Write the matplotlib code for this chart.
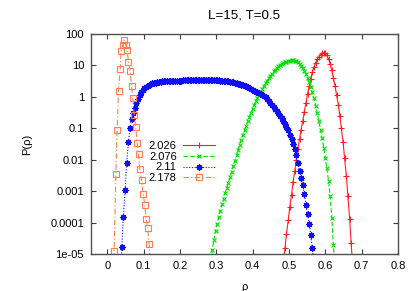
import matplotlib
matplotlib.use('Agg')
import numpy as np
import matplotlib.pyplot as plt
from matplotlib.ticker import FixedLocator, NullLocator

plt.rcParams['font.family'] = ['Liberation Sans', 'DejaVu Sans']
plt.rcParams['font.size'] = 8

# rho values and log10 P(rho)
rho_2026 = [0.484, 0.489, 0.493, 0.498, 0.502, 0.507, 0.511, 0.516, 0.520, 0.524,
            0.529, 0.533, 0.538, 0.542, 0.547, 0.551, 0.556, 0.560, 0.564, 0.569,
            0.573, 0.578, 0.582, 0.587, 0.591, 0.596, 0.600, 0.604, 0.609, 0.613,
            0.618, 0.622, 0.627, 0.631, 0.636, 0.640, 0.644, 0.649, 0.653, 0.658,
            0.662, 0.667, 0.671, 0.676]
logp_2026 = [-5.30, -4.80, -4.35, -3.92, -3.50, -3.12, -2.72, -2.35, -2.00, -1.67,
             -1.35, -1.05, -0.76, -0.47, -0.18, 0.10, 0.36, 0.58, 0.78, 0.95,
             1.08, 1.19, 1.27, 1.34, 1.38, 1.40, 1.38, 1.32, 1.21, 1.05,
             0.84, 0.60, 0.33, 0.05, -0.26, -0.62, -1.00, -1.45, -1.95, -2.52,
             -3.15, -3.88, -4.65, -5.50]

rho_2076 = [0.284, 0.289, 0.293, 0.298, 0.302, 0.307, 0.311, 0.316, 0.320, 0.324,
            0.329, 0.333, 0.338, 0.342, 0.347, 0.351, 0.356, 0.360, 0.364, 0.369,
            0.373, 0.378, 0.382, 0.387, 0.391, 0.396, 0.400, 0.404, 0.409, 0.413,
            0.418, 0.422, 0.427, 0.431, 0.436, 0.440, 0.444, 0.449, 0.453, 0.458,
            0.462, 0.467, 0.471, 0.476, 0.480, 0.484, 0.489, 0.493, 0.498, 0.502,
            0.507, 0.511, 0.516, 0.520, 0.524, 0.529, 0.533, 0.538, 0.542, 0.547,
            0.551, 0.556, 0.560, 0.564, 0.569, 0.573, 0.578, 0.582, 0.587, 0.591,
            0.596, 0.600, 0.604, 0.609, 0.613, 0.618, 0.622, 0.627]
logp_2076 = [-5.40, -4.87, -4.55, -4.28, -4.05, -3.82, -3.62, -3.42, -3.25, -3.06,
             -2.90, -2.74, -2.56, -2.38, -2.20, -2.03, -1.86, -1.69, -1.52, -1.36,
             -1.21, -1.06, -0.92, -0.77, -0.63, -0.50, -0.38, -0.26, -0.14, -0.04,
             0.06, 0.16, 0.26, 0.35, 0.44, 0.52, 0.60, 0.67, 0.74, 0.81,
             0.87, 0.92, 0.97, 1.01, 1.05, 1.08, 1.10, 1.12, 1.14, 1.15,
             1.16, 1.16, 1.15, 1.13, 1.10, 1.05, 0.99, 0.91, 0.83, 0.73,
             0.61, 0.47, 0.32, 0.14, -0.05, -0.28, -0.52, -0.78, -1.05, -1.32,
             -1.62, -1.93, -2.27, -2.68, -3.15, -3.85, -4.70, -5.50]

rho_211 = [0.036, 0.040, 0.044, 0.049, 0.053, 0.058, 0.062, 0.067, 0.071, 0.076,
           0.080, 0.084, 0.089, 0.093, 0.098, 0.102, 0.107, 0.111, 0.116, 0.120,
           0.124, 0.129, 0.133, 0.138, 0.142, 0.147, 0.151, 0.156, 0.160, 0.164,
           0.169, 0.173, 0.178, 0.182, 0.187, 0.191, 0.196, 0.200, 0.204, 0.209,
           0.213, 0.218, 0.222, 0.227, 0.231, 0.236, 0.240, 0.244, 0.249, 0.253,
           0.258, 0.262, 0.267, 0.271, 0.276, 0.280, 0.284, 0.289, 0.293, 0.298,
           0.302, 0.307, 0.311, 0.316, 0.320, 0.324, 0.329, 0.333, 0.338, 0.342,
           0.347, 0.351, 0.356, 0.360, 0.364, 0.369, 0.373, 0.378, 0.382, 0.387,
           0.391, 0.396, 0.400, 0.404, 0.409, 0.413, 0.418, 0.422, 0.427, 0.431,
           0.436, 0.440, 0.444, 0.449, 0.453, 0.458, 0.462, 0.467, 0.471, 0.476,
           0.480, 0.484, 0.489, 0.493, 0.498, 0.502, 0.507, 0.511, 0.516, 0.520,
           0.524, 0.529, 0.533, 0.538, 0.542, 0.547, 0.551, 0.556, 0.560, 0.564,
           0.569]
logp_211 = [-5.60, -4.77, -3.81, -2.95, -2.10, -1.45, -1.00, -0.70, -0.50, -0.34,
            -0.20, -0.06, 0.05, 0.15, 0.22, 0.28, 0.32, 0.36, 0.39, 0.41,
            0.43, 0.44, 0.45, 0.46, 0.47, 0.48, 0.49, 0.49, 0.50, 0.50,
            0.51, 0.51, 0.51, 0.52, 0.52, 0.52, 0.52, 0.52, 0.52, 0.53,
            0.53, 0.53, 0.53, 0.53, 0.53, 0.54, 0.54, 0.54, 0.54, 0.54,
            0.54, 0.54, 0.54, 0.54, 0.54, 0.54, 0.54, 0.53, 0.53, 0.53,
            0.53, 0.53, 0.52, 0.52, 0.52, 0.51, 0.50, 0.49, 0.48, 0.47,
            0.46, 0.45, 0.44, 0.42, 0.41, 0.39, 0.37, 0.35, 0.33, 0.31,
            0.29, 0.26, 0.23, 0.20, 0.17, 0.14, 0.12, 0.09, 0.05, 0.02,
            -0.02, -0.07, -0.13, -0.19, -0.25, -0.31, -0.38, -0.45, -0.52, -0.60,
            -0.68, -0.76, -0.85, -0.95, -1.07, -1.20, -1.34, -1.50, -1.66, -1.85,
            -2.10, -2.35, -2.58, -2.80, -3.10, -3.45, -3.72, -4.05, -4.40, -4.80,
            -5.30]

rho_2178 = [0.016, 0.0187, 0.0234, 0.027, 0.0308, 0.0352, 0.038, 0.0426, 0.046, 0.051,
            0.0545, 0.058, 0.0627, 0.0665, 0.070, 0.0737, 0.078, 0.082, 0.0858, 0.0894,
            0.094, 0.0985, 0.103, 0.1067, 0.111, 0.115, 0.119]
logp_2178 = [-5.5, -4.9, -2.46, -1.05, 0.19, 0.88, 1.46, 1.65, 1.80, 1.65,
             1.50, 1.12, 0.82, 0.35, -0.05, -0.58, -0.96, -1.46, -1.81, -2.30,
             -2.64, -3.09, -3.43, -3.89, -4.16, -4.69, -5.5]

y_ticks = [1e-5, 1e-4, 1e-3, 1e-2, 1e-1, 1, 10, 100]
y_labels = ['1e-05', '0.0001', '0.001', '0.01', '0.1', '1', '10', '100']
x_ticks = [0, 0.1, 0.2, 0.3, 0.4, 0.5, 0.6, 0.7, 0.8]
x_labels = ['0', '0.1', '0.2', '0.3', '0.4', '0.5', '0.6', '0.7', '0.8']

fig = plt.figure(figsize=(4.15, 2.91), dpi=100)
ax = fig.add_axes([0.2193, 0.1271, 0.7397, 0.7561])

ax.plot(rho_2026, 10 ** np.array(logp_2026), color='#ff2020', lw=0.8, ls='-',
        marker='+', ms=4, mew=0.8, label='2.026')
ax.plot(rho_2076, 10 ** np.array(logp_2076), color='#00e000', lw=0.8, ls=(0, (4, 2)),
        marker='x', ms=3.5, mew=0.8, label='2.076')
ax.plot(rho_211, 10 ** np.array(logp_211), color='#1010ff', lw=0.8, ls=(0, (1, 1.5)),
        marker=(8, 2, 0), ms=4.5, mew=0.9, label='2.11')
ax.plot(rho_2178, 10 ** np.array(logp_2178), color='#ff7f50', lw=0.8, ls=(0, (5, 2, 1, 2)),
        marker='s', ms=4.2, mew=0.8, mfc='none', label='2.178')

ax.set_yscale('log')
ax.set_xlim(-0.045, 0.8)
ax.set_ylim(1e-5, 100)
ax.yaxis.set_major_locator(FixedLocator(y_ticks))
ax.yaxis.set_minor_locator(NullLocator())
ax.set_yticklabels(y_labels)
ax.set_xticks(x_ticks)
ax.set_xticklabels(x_labels)
ax.tick_params(direction='in', top=True, right=True, length=3.5, width=0.8,
               color='#404040', pad=5)
for s in ax.spines.values():
    s.set_color('#505050')
    s.set_linewidth(1.0)

ax.set_title('L=15, T=0.5', pad=11)
ax.set_xlabel('ρ', labelpad=8)
ax.set_ylabel('P(ρ)', labelpad=13)

leg = ax.legend(loc='upper right', bbox_to_anchor=(0.404, 0.512), frameon=False,
                markerfirst=False, handlelength=2.9, handletextpad=0.55,
                labelspacing=0.05, borderpad=0, borderaxespad=0, fontsize=8)

fig.savefig('out.png', dpi=100)
